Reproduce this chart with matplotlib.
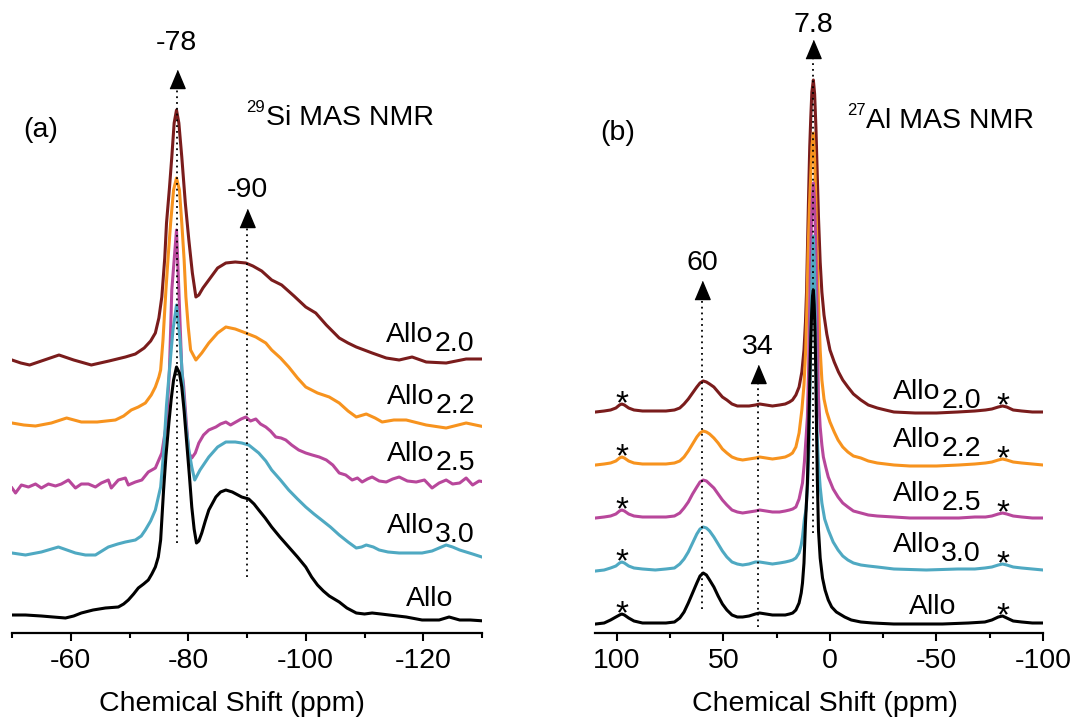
import numpy as np
import matplotlib
matplotlib.use("Agg")
import matplotlib.pyplot as plt
from matplotlib.ticker import MultipleLocator

plt.rcParams["font.family"] = ["Liberation Sans", "DejaVu Sans"]
plt.rcParams["axes.unicode_minus"] = False

# ---------------- 29Si MAS NMR spectra (relative intensity) ----------------
si_ppm_20 = [-50, -51.5, -53, -55.5, -58, -60.5, -63.5, -66.5, -69.3, -71, -72.5, -73.6, -74.4, -75.0,
             -75.5, -76.0, -76.3, -76.8, -77.2, -77.6, -78.0, -78.4, -78.9, -79.5, -80.1, -80.7, -81.3,
             -81.8, -82.5, -83.5, -85.0, -86.4, -88.0, -89.8, -91.0, -92.5, -94.2, -95.9, -98.0, -100.0,
             -101.7, -103.5, -105.7, -107.2, -108.6, -111.3, -113.7, -115.9, -118.1, -120.5, -123.9,
             -127.3, -130.5]
si_int_20 = [3, 0, -2, 3, 8, 3, -2, 2, 6, 9, 15, 22, 30, 45,
             66, 105, 140, 175, 206, 240, 253, 240, 206, 160, 123, 90, 66,
             68, 75, 83, 95, 100, 101, 100, 97, 92, 83, 78, 67, 56,
             50, 38, 25, 20, 16, 10, 5, 3, 6, 1, 0,
             4, 4]

si_ppm_22 = [-50, -52, -54, -56.7, -59.3, -61.8, -64.5, -67.6, -69, -70.3, -71.5, -72.7, -73.7, -74.4,
             -75.0, -75.3, -75.7, -76.2, -76.6, -77.0, -77.5, -78.0, -78.5, -78.9, -79.3, -79.6, -80.0,
             -80.4, -81.3, -82.3, -83.5, -85.0, -86.4, -88.0, -89.8, -91.5, -93.2, -94.2, -95.7, -97.1,
             -98.6, -100.0, -102.0, -104.0, -105.7, -107.2, -108.6, -110.3, -111.8, -113.0, -115.0,
             -117.1, -120.5, -123.9, -127.3, -130.5]
si_int_22 = [2, 0, -1, 2, 7, 3, 3, 5, 9, 15, 18, 22, 30, 38,
             48, 55, 85, 135, 170, 202, 235, 247, 235, 202, 165, 128, 98,
             75, 65, 72, 82, 92, 98, 96, 92, 88, 82, 75, 67, 58,
             47, 38, 32, 28, 22, 14, 8, 11, 7, 3, 5,
             5, 0, -3, 2, -2]

si_ppm_25 = [-50, -50.6, -51.6, -52.8, -54.0, -55.0, -56.2, -57.4, -58.4, -59.6, -60.8, -61.8, -63.0, -64.2,
             -65.2, -66.4, -66.9, -68.1, -69.3, -69.8, -71.0, -72.1, -73.2, -74.4, -75.5, -76.3, -76.8,
             -77.2, -78.0, -78.4, -78.9, -79.2, -79.7, -80.1, -80.6, -81.2, -81.8, -82.6, -83.5, -84.7,
             -85.5, -86.4, -87.2, -88.1, -89.0, -89.8, -90.6, -91.5, -92.3, -93.2, -94.0, -94.9, -95.8,
             -96.6, -97.6, -98.8, -100.0, -101.1, -102.3, -103.5, -104.6, -105.7, -106.8, -107.9, -108.8,
             -109.6, -110.5, -111.3, -112.5, -113.7, -114.8, -115.9, -117.3, -118.8, -120.2, -121.5,
             -122.7, -123.9, -125.0, -126.2, -127.3, -128.4, -129.5, -130.5]
si_int_25 = [-3, -8, 0, -2, 1, -3, 1, -1, 1, 5, -3, 1, 1, -2,
             2, 5, -3, 5, 7, 0, 3, 5, 13, 17, 32, 62, 115,
             195, 255, 195, 115, 100, 60, 32, 27, 32, 42, 50, 55, 58,
             61, 63, 60, 63, 66, 68, 64, 66, 61, 58, 54, 48, 47,
             45, 40, 35, 32, 30, 28, 25, 20, 12, 10, 5, 7,
             3, 6, 8, 4, 3, 6, 8, 4, 3, 5, -3,
             2, 5, 1, 2, 7, 0, 4, 3]

si_ppm_30 = [-50, -52.3, -55.0, -57.9, -60.8, -62.5, -64.2, -66.4, -68, -69.3, -71.0, -72.0, -72.7, -73.6,
             -74.4, -75.3, -75.8, -76.3, -76.8, -77.4, -78.0, -78.6, -79.1, -79.6, -80.1, -80.6, -81.1,
             -82.0, -83.5, -85.0, -86.4, -88.0, -89.1, -90.3, -92.0, -93.2, -94.2, -95.7, -97.1, -98.6,
             -100.0, -101.4, -102.7, -104.2, -105.7, -107.2, -108.6, -109.5, -110.3, -111.5, -112.5,
             -114.0, -115.9, -118.0, -119.8, -121.5, -123.9, -125.0, -126.2, -128.4, -130.5]
si_int_30 = [2, 0, 3, 8, 2, 0, 0, 8, 11, 13, 15, 19, 25, 34,
             45, 68, 102, 150, 185, 225, 250, 215, 170, 130, 105, 88, 75,
             85, 98, 108, 113, 113, 112, 110, 102, 94, 85, 75, 65, 56,
             48, 41, 35, 28, 20, 13, 7, 8, 10, 8, 5,
             3, 2, 2, 2, 4, 10, 8, 5, 1, -3]

si_ppm_allo = [-50, -52.3, -55.0, -57, -59.1, -60.5, -61.8, -63.8, -65.9, -68.1, -69.0, -69.8, -70.7, -71.5,
               -72.4, -73.2, -73.8, -74.4, -74.9, -75.3, -75.8, -76.2, -76.7, -77.1, -77.5, -78.0, -78.5,
               -78.9, -79.3, -79.7, -80.2, -80.6, -81.0, -81.4, -81.8, -82.3, -82.9, -83.5, -84.7, -85.5,
               -86.4, -87.5, -89.1, -90.3, -91.2, -92.0, -93.1, -94.2, -95.6, -97.1, -98.6, -100.0,
               -101.0, -102.0, -103.0, -104.0, -105.7, -107.0, -108.6, -110.0, -111.3, -112.8, -114.2,
               -117.1, -119.8, -122.7, -124.4, -126.2, -128.0, -130.5]
si_int_allo = [6, 6, 5, 4, 3, 5, 8, 11, 13, 14, 17, 21, 27, 33,
               37, 41, 47, 54, 64, 81, 131, 165, 198, 222, 241, 254, 248,
               234, 210, 181, 145, 114, 92, 78, 80, 88, 100, 111, 124, 129,
               131, 129, 124, 122, 117, 111, 103, 94, 84, 74, 64, 54,
               44, 36, 30, 25, 19, 13, 8, 7, 8, 7, 6,
               4, 1, 1, 4, 1, 1, 0]

# ---------------- 27Al MAS NMR spectra (relative intensity) ----------------
al_ppm_20 = [110, 106, 103, 100.5, 98.8, 97.7, 96.5, 94.5, 92, 88, 82, 77, 73, 70.5, 68.5, 66.5, 64.5,
             62.5, 61, 59.5, 58, 56.5, 54.5, 52.5, 50.5, 48.4, 46, 43.5, 41, 38, 35, 33, 30, 27, 23.7,
             21, 19, 17.6, 16, 14.5, 13.2, 12.2, 11.5, 11.0, 10.5, 10.0, 9.5, 9.0, 8.5, 7.8, 7.2, 6.6,
             6.0, 5.4, 4.6, 3.8, 2.8, 1.5, 0.0, -2.0, -4.0, -6.0, -8.4, -11, -14.5, -18, -22.2, -26,
             -30, -40, -50, -60, -68, -73, -76, -79, -81, -83, -86, -90, -95, -100]
al_int_20 = [0, 1, 2, 4, 7, 8, 7, 4, 2, 1, 1, 1, 2, 4, 8, 13, 19,
             25, 29, 31, 30, 28, 25, 20, 15, 12, 8, 6, 6, 6, 7, 8, 7, 6, 7,
             8, 10, 12, 17, 25, 40, 62, 90, 120, 170, 220, 265, 295, 320, 332, 318, 285,
             240, 195, 150, 120, 97, 78, 62, 50, 40, 32, 25, 18, 12, 7, 4, 2,
             0, -1, -1, 0, 1, 2, 3, 5, 6, 5, 2, 1, 0, 0]

al_ppm_22 = [110, 106, 103, 100.5, 98.8, 97.7, 96.5, 94.5, 92, 88, 82, 77, 73, 70.5, 68.5, 66.5, 64.5,
             62.5, 61, 59.5, 58, 56.5, 54.5, 52.5, 50.5, 48.4, 46, 43.5, 41, 38, 35, 33, 30, 27, 23.7,
             21, 19, 17.6, 16, 14.5, 13.2, 12.2, 11.4, 10.8, 10.3, 9.6, 9.0, 8.4, 7.8, 7.2, 6.6, 6.0,
             5.4, 4.6, 3.8, 2.8, 1.5, 0.0, -2.0, -3.8, -6, -8.4, -11, -14.5, -18, -22.2, -30, -37.5,
             -50, -60.5, -68, -73, -76, -79, -81, -83, -86, -90, -95, -100]
al_int_22 = [0, 1, 2, 4, 7, 8, 7, 4, 2, 1, 1, 1, 2, 4, 8, 14, 21,
             28, 32, 34, 33, 31, 27, 22, 16, 12, 8, 6, 5, 6, 7, 8, 7, 6, 7,
             8, 10, 12, 18, 32, 55, 80, 115, 160, 212, 260, 292, 320, 332, 305, 262, 210,
             162, 115, 85, 66, 53, 43, 33, 25, 18, 13, 9, 7, 4, 2, 0, -1,
             -1, 0, 1, 2, 3, 5, 6, 5, 3, 2, 1, 0]

al_ppm_25 = [110, 106, 103, 100.5, 98.8, 97.7, 96.5, 94.5, 92, 88, 82, 77, 73, 70.5, 68.5, 66.5, 64.5,
             62.5, 61, 59.5, 58, 56.5, 54.5, 52.5, 50.5, 48.4, 46, 43.5, 41, 38, 35, 33, 30, 27, 23.7,
             21, 19, 17.5, 16, 14.5, 13.5, 12.9, 12.0, 11.2, 10.6, 10.0, 9.5, 9.0, 8.7, 8.2, 7.8, 7.3,
             6.8, 6.3, 5.8, 5.4, 4.6, 3.8, 3.1, 2.0, 0.8, -1.5, -3.8, -6, -8.4, -11, -14.5, -18, -22.2,
             -30, -37.5, -60.5, -68, -73, -76, -79, -81, -83, -86, -90, -95, -100]
al_int_25 = [-1, 0, 1, 3, 6, 7, 6, 3, 1, 0, 0, 0, 1, 4, 9, 15, 23,
             30, 35, 37, 36, 33, 29, 23, 17, 12, 7, 5, 4, 5, 6, 7, 6, 5, 5,
             6, 7, 8, 10, 18, 28, 34, 55, 80, 100, 150, 214, 265, 294, 322, 334, 318,
             284, 230, 170, 120, 90, 72, 60, 50, 40, 28, 20, 14, 10, 6, 4, 2, 1,
             0, -1, -1, 0, 0, 1, 3, 4, 3, 1, 0, -1, -1]

al_ppm_30 = [110, 106, 103, 100.5, 98.8, 97.7, 96.5, 94.5, 92, 88, 82, 77, 73, 70.5, 68.5, 66.5, 64.5,
             62.5, 61, 59.5, 58, 56.5, 54.5, 52.5, 50.5, 48.4, 46, 43.5, 41, 38, 35, 33, 30, 27, 23.7,
             21, 19, 17.5, 16, 14.5, 13.5, 12.9, 12.0, 11.2, 10.5, 9.9, 9.4, 8.8, 8.3, 7.8, 7.3, 6.9,
             6.5, 6.1, 5.4, 4.6, 3.8, 2.5, 0.8, -1.5, -3.8, -6, -8.4, -11, -14.5, -18, -22.2, -30,
             -45.2, -60, -68, -72.7, -76, -79, -81, -83, -86, -90, -95, -100]
al_int_30 = [-2, -1, 1, 3, 6, 7, 6, 3, 1, 0, -1, 0, 1, 5, 10, 17, 26,
             35, 40, 42, 41, 38, 32, 25, 18, 12, 7, 5, 4, 5, 7, 7, 6, 5, 6,
             7, 8, 9, 11, 16, 24, 32, 50, 60, 85, 119, 180, 256, 305, 333, 305, 256,
             195, 139, 105, 82, 66, 50, 39, 27, 19, 13, 9, 6, 4, 3, 2, 0,
             -1, 0, 0, 1, 2, 4, 5, 4, 2, 1, 0, -1]

al_ppm_allo = [110, 106, 103, 100.5, 98.8, 97.7, 96.5, 94.5, 92, 88, 82, 77, 73, 70.5, 68.5, 66.5, 64.5,
               62.5, 61, 59.5, 58, 56.5, 54.5, 52.5, 50.5, 48.4, 46, 43.5, 41, 38, 35, 33, 30, 27, 23.7,
               21, 19, 17.5, 16, 14.5, 13.5, 12.9, 12.2, 11.5, 10.6, 10.0, 9.5, 9.0, 8.6, 8.2, 7.8, 7.4,
               7.0, 6.6, 6.3, 5.9, 5.4, 4.6, 3.5, 2.3, 0.8, -0.8, -3, -6.9, -10, -14.5, -20, -29.9,
               -52.8, -65, -72.7, -76, -79, -81, -83, -86, -90, -95, -100]
al_int_allo = [-1, 0, 3, 6, 8, 9, 8, 5, 2, 0, 0, 0, 1, 5, 11, 20, 30,
               40, 47, 50, 48, 43, 36, 27, 19, 13, 8, 6, 6, 7, 9, 10, 9, 8, 8,
               8, 9, 10, 13, 20, 30, 40, 60, 100, 140, 190, 240, 285, 310, 327, 333, 318,
               290, 245, 193, 140, 93, 65, 45, 33, 23, 16, 11, 6, 3, 1, 0, -1,
               -1, 0, 1, 3, 6, 7, 5, 2, 1, 0, 0]

sample_names = ["Allo", "Allo", "Allo", "Allo", "Allo"]
sample_subs = ["2.0", "2.2", "2.5", "3.0", ""]
colors = ["#7a1c1c", "#f7931e", "#b8479b", "#4fa9c2", "#000000"]

si_marks = [-78, -90]          # ppm positions marked with arrows (Si)
al_marks = [60, 34, 7.8]       # ppm positions marked with arrows (Al)
sideband_ppm = [97.7, -81.0]   # spinning sidebands flagged with *

# ---------------- figure layout ----------------
W, H = 1073, 718
fig = plt.figure(figsize=(W / 100, H / 100), dpi=100)
ax_a = fig.add_axes([12 / W, (H - 633) / H, 470 / W, 633 / H])
ax_b = fig.add_axes([595 / W, (H - 633) / H, 448 / W, 633 / H])

FS = 20.5
LW = 2.2
TRI = [(-0.42, -0.5), (0.42, -0.5), (0.0, 0.5)]


def style_axis(ax, xlim, major, minor, label_x):
    ax.set_xlim(*xlim)
    ax.set_ylim(0, 633)
    for side in ("left", "right", "top"):
        ax.spines[side].set_visible(False)
    ax.spines["bottom"].set_linewidth(1.6)
    ax.set_yticks([])
    ax.xaxis.set_major_locator(MultipleLocator(major))
    ax.xaxis.set_minor_locator(MultipleLocator(minor))
    ax.tick_params(axis="x", which="major", direction="out", length=6, width=1.5,
                   labelsize=FS, pad=5)
    ax.tick_params(axis="x", which="minor", direction="out", length=3.5, width=1.5)
    ax.set_xlabel("Chemical Shift (ppm)", fontsize=FS)
    ax.xaxis.set_label_coords(label_x, -0.092)
    ax.patch.set_alpha(0)


def sample_label(ax, x, y, name, sub):
    t = ax.text(x, y, name, fontsize=FS, ha="left", va="bottom")
    if sub:
        ax.annotate(sub, xy=(1, 0), xycoords=t, xytext=(0.6, -6.5),
                    textcoords="offset points", fontsize=FS, ha="left", va="bottom")


def peak_arrow(ax, x, y_low, y_base, label_y):
    ax.plot([x, x], [y_low, y_base], ls=(0, (1, 2.2)), color="k", lw=1.3, zorder=6)
    ax.plot([x], [y_base + 9], marker=TRI, markersize=13, color="k", ls="none", zorder=6,
            clip_on=False)
    ax.text(x, label_y, f"{x:g}", fontsize=FS, ha="center", va="center")


def heading(ax, x, y, sup, text):
    t = ax.text(x, y, text, fontsize=FS, ha="left", va="baseline")
    ax.annotate(sup, xy=(0, 1), xycoords=t, xytext=(-0.5, 3.5), textcoords="offset points",
                fontsize=12, ha="right", va="top")


# ---------------- panel (a): 29Si ----------------
si_series = [(si_ppm_20, si_int_20), (si_ppm_22, si_int_22), (si_ppm_25, si_int_25),
             (si_ppm_30, si_int_30), (si_ppm_allo, si_int_allo)]
si_offsets = [270, 208, 148, 78, 12]
for (ppm, inten), off, c in zip(si_series, si_offsets, colors):
    ax_a.plot(ppm, np.asarray(inten) + off, color=c, lw=LW, solid_joinstyle="round", zorder=3)

style_axis(ax_a, (-50, -130), 20, 10, 0.468)
peak_arrow(ax_a, si_marks[0], 90, 545, 590)
peak_arrow(ax_a, si_marks[1], 56, 406, 443)

si_label_pos = [(-113.7, 290), (-113.8, 228), (-113.8, 171), (-113.8, 99), (-117.1, 26)]
for (x, y), n, s in zip(si_label_pos, sample_names, sample_subs):
    sample_label(ax_a, x, y - 5, n, s)

ax_a.text(-54.8, 503, "(a)", fontsize=FS, ha="center", va="center")
heading(ax_a, -93.2, 508, "29", "Si MAS NMR")

# ---------------- panel (b): 27Al ----------------
al_series = [(al_ppm_20, al_int_20), (al_ppm_22, al_int_22), (al_ppm_25, al_int_25),
             (al_ppm_30, al_int_30), (al_ppm_allo, al_int_allo)]
al_offsets = [221, 168, 116, 64, 10]
for (ppm, inten), off, c in zip(al_series, al_offsets, colors):
    ax_b.plot(ppm, np.asarray(inten) + off, color=c, lw=LW, solid_joinstyle="round", zorder=3)
    for sb in sideband_ppm:
        y_sb = np.interp(-sb, -np.asarray(ppm), np.asarray(inten) + off)
        ax_b.text(sb, y_sb - 9, "*", fontsize=24, ha="center", va="baseline")

style_axis(ax_b, (110.3, -100), 50, 25, 0.513)
peak_arrow(ax_b, al_marks[0], 24, 334, 370)
peak_arrow(ax_b, al_marks[1], 6, 250, 286)
peak_arrow(ax_b, al_marks[2], 100, 575, 608)

al_label_pos = [(-29.6, 233), (-29.6, 185), (-29.6, 131), (-29.6, 80), (-37.1, 18)]
for (x, y), n, s in zip(al_label_pos, sample_names, sample_subs):
    sample_label(ax_b, x, y - 5, n, s)

ax_b.text(99.5, 500, "(b)", fontsize=FS, ha="center", va="center")
heading(ax_b, -16.9, 505, "27", "Al MAS NMR")

fig.savefig("out.png", dpi=100)
